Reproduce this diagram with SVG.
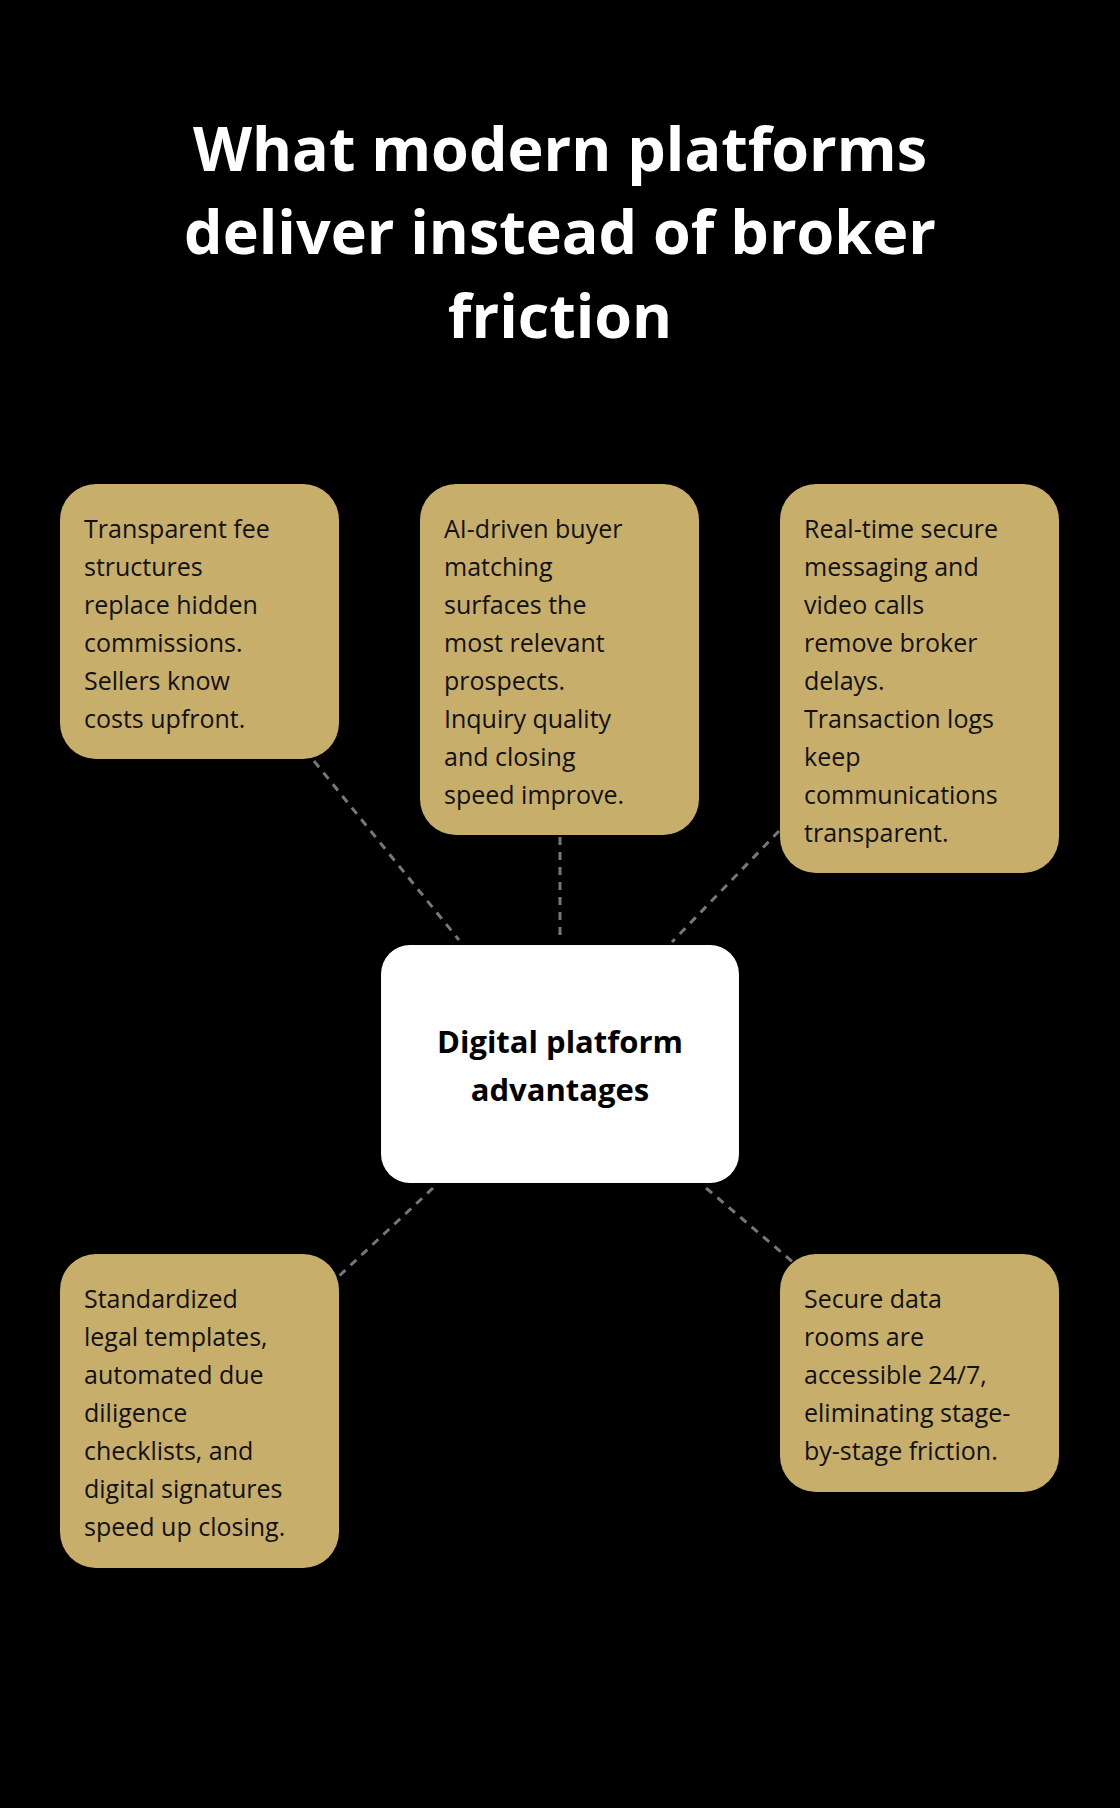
<svg xmlns="http://www.w3.org/2000/svg" width="1120" height="1808" viewBox="0 0 1120 1808">
<style>
.box{fill:#c8ae6b}
.t{font-family:"Open Sans","Noto Sans",sans-serif;font-size:25px;fill:#111}
.h{font-family:"Open Sans","Noto Sans",sans-serif;font-weight:bold;font-size:61px;fill:#fff;text-anchor:middle}
.c{font-family:"Open Sans","Noto Sans",sans-serif;font-weight:bold;font-size:31px;fill:#000;text-anchor:middle}
.l{stroke:#777;stroke-width:3;stroke-dasharray:8 7;fill:none}
</style>
<rect width="1120" height="1808" fill="#000"/>
<g id="title"><text class="h" x="560" y="171">What modern platforms</text><text class="h" x="560" y="254">deliver instead of broker</text><text class="h" x="560" y="338">friction</text></g>
<g id="connectors">
<line class="l" x1="314" y1="761" x2="459" y2="940"/>
<line class="l" x1="560" y1="837" x2="560" y2="937"/>
<line class="l" x1="779" y1="831" x2="672" y2="942"/>
<line class="l" x1="433" y1="1188" x2="338" y2="1277"/>
<line class="l" x1="706" y1="1188" x2="794" y2="1263"/>
</g>
<g id="center"><rect x="381" y="945" width="358" height="238" rx="29" fill="#fff"/><text class="c" x="560" y="1053">Digital platform</text><text class="c" x="560" y="1101">advantages</text></g>
<g id="n1"><rect class="box" x="60" y="484" width="279" height="275" rx="36"/><text class="t" x="84" y="538"><tspan x="84">Transparent fee</tspan><tspan x="84" dy="38">structures</tspan><tspan x="84" dy="38">replace hidden</tspan><tspan x="84" dy="38">commissions.</tspan><tspan x="84" dy="38">Sellers know</tspan><tspan x="84" dy="38">costs upfront.</tspan></text></g>
<g id="n2"><rect class="box" x="420" y="484" width="279" height="351" rx="36"/><text class="t" x="444" y="538"><tspan x="444">AI-driven buyer</tspan><tspan x="444" dy="38">matching</tspan><tspan x="444" dy="38">surfaces the</tspan><tspan x="444" dy="38">most relevant</tspan><tspan x="444" dy="38">prospects.</tspan><tspan x="444" dy="38">Inquiry quality</tspan><tspan x="444" dy="38">and closing</tspan><tspan x="444" dy="38">speed improve.</tspan></text></g>
<g id="n3"><rect class="box" x="780" y="484" width="279" height="389" rx="36"/><text class="t" x="804" y="538"><tspan x="804">Real-time secure</tspan><tspan x="804" dy="38">messaging and</tspan><tspan x="804" dy="38">video calls</tspan><tspan x="804" dy="38">remove broker</tspan><tspan x="804" dy="38">delays.</tspan><tspan x="804" dy="38">Transaction logs</tspan><tspan x="804" dy="38">keep</tspan><tspan x="804" dy="38">communications</tspan><tspan x="804" dy="38">transparent.</tspan></text></g>
<g id="n4"><rect class="box" x="60" y="1254" width="279" height="314" rx="36"/><text class="t" x="84" y="1308"><tspan x="84">Standardized</tspan><tspan x="84" dy="38">legal templates,</tspan><tspan x="84" dy="38">automated due</tspan><tspan x="84" dy="38">diligence</tspan><tspan x="84" dy="38">checklists, and</tspan><tspan x="84" dy="38">digital signatures</tspan><tspan x="84" dy="38">speed up closing.</tspan></text></g>
<g id="n5"><rect class="box" x="780" y="1254" width="279" height="238" rx="36"/><text class="t" x="804" y="1308"><tspan x="804">Secure data</tspan><tspan x="804" dy="38">rooms are</tspan><tspan x="804" dy="38">accessible 24/7,</tspan><tspan x="804" dy="38">eliminating stage-</tspan><tspan x="804" dy="38">by-stage friction.</tspan></text></g>
</svg>
